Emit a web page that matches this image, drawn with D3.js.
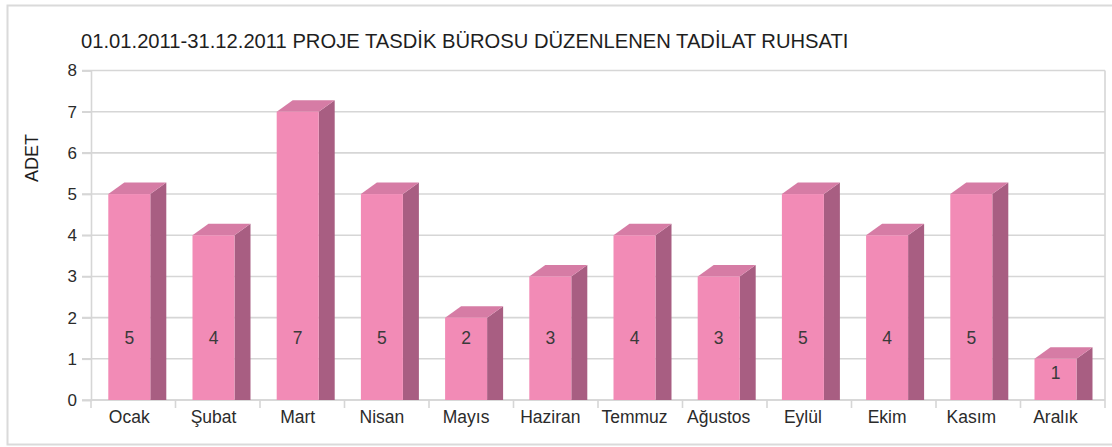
<!DOCTYPE html>
<html>
<head>
<meta charset="utf-8">
<script src="https://cdn.jsdelivr.net/npm/d3@7/dist/d3.min.js"></script>
<style>
  html, body { margin: 0; padding: 0; background: #fff; }
  svg { display: block; font-family: "Liberation Sans", Arial, Helvetica, sans-serif; }
</style>
</head>
<body>
<svg id="chart" width="1112" height="447"></svg>
<script>
// Monthly counts of permits issued
const chartTitle = "01.01.2011-31.12.2011 PROJE TASDİK BÜROSU DÜZENLENEN TADİLAT RUHSATI";
const yAxisTitle = "ADET";
const months = ["Ocak", "Şubat", "Mart", "Nisan", "Mayıs", "Haziran", "Temmuz", "Ağustos", "Eylül", "Ekim", "Kasım", "Aralık"];
const permits = [5, 4, 7, 5, 2, 3, 4, 3, 5, 4, 5, 1];
const yTicks = [0, 1, 2, 3, 4, 5, 6, 7, 8];

const svg = d3.select("#chart");
const plot = { left: 91, right: 1105, top: 70.5, bottom: 400 };

// category bands for the axis, and a slightly tighter band scale for the bar bodies
const x = d3.scaleBand().domain(months).range([plot.left, plot.right]);
const xBar = d3.scaleBand().domain(months).range([plot.left, plot.left + 12 * 84.2]);
const y = d3.scaleLinear().domain([0, 8]).range([plot.bottom, plot.top]);

const gridColor = "#d6d6d6";
const textColor = "#2b2b2b";

// outer frame
svg.append("rect")
  .attr("x", 7.5).attr("y", 5.5)
  .attr("width", 1200).attr("height", 439)
  .attr("fill", "none").attr("stroke", "#dadada").attr("stroke-width", 2);

// title
svg.append("text")
  .attr("x", 81).attr("y", 48)
  .attr("font-size", 20.2)
  .attr("fill", "#1e1e1e")
  .text(chartTitle);

// horizontal gridlines
svg.append("g")
  .selectAll("line")
  .data(yTicks)
  .join("line")
  .attr("x1", plot.left - 9).attr("x2", plot.right)
  .attr("y1", d => y(d)).attr("y2", d => y(d))
  .attr("stroke", gridColor).attr("stroke-width", 1.6);

// right edge of plot area
svg.append("line")
  .attr("x1", plot.right).attr("x2", plot.right)
  .attr("y1", plot.top).attr("y2", plot.bottom)
  .attr("stroke", gridColor).attr("stroke-width", 1.6);

// y axis
const yAxis = d3.axisLeft(y).tickValues(yTicks).tickSize(9).tickPadding(5).tickFormat(d3.format("d"));
const gy = svg.append("g").attr("transform", `translate(${plot.left},0)`).call(yAxis);
gy.select(".domain").attr("stroke", gridColor).attr("stroke-width", 1.6);
gy.selectAll(".tick line").attr("stroke", gridColor).attr("stroke-width", 1.6);
gy.selectAll(".tick text").attr("font-size", 17).attr("fill", textColor).attr("font-family", null);

// x axis with ticks at band boundaries
const gx = svg.append("g").attr("transform", `translate(0,${plot.bottom})`);
gx.append("line")
  .attr("x1", plot.left).attr("x2", plot.right)
  .attr("stroke", gridColor).attr("stroke-width", 1.6);
const boundaries = months.map(m => x(m)).concat([x(months[months.length - 1]) + x.bandwidth()]);
gx.selectAll("line.tick")
  .data(boundaries)
  .join("line")
  .attr("class", "tick")
  .attr("x1", d => d).attr("x2", d => d)
  .attr("y1", 0).attr("y2", 8)
  .attr("stroke", gridColor).attr("stroke-width", 1.6);
gx.selectAll("text")
  .data(months)
  .join("text")
  .attr("x", m => xBar(m) + 17.3 + 21)
  .attr("y", 23)
  .attr("text-anchor", "middle")
  .attr("font-size", 17.5)
  .attr("fill", textColor)
  .text(m => m);

// y axis title
svg.append("text")
  .attr("transform", "translate(38,158) rotate(-90)")
  .attr("text-anchor", "middle")
  .attr("font-size", 18)
  .attr("fill", "#1e1e1e")
  .text(yAxisTitle);

// 3D bars
const frontOffset = 17.3, frontW = 42, depthX = 16, depthY = 11.5;
const colFront = "#f28bb6", colTop = "#d67ca5", colSide = "#a85e82";
const data = months.map((m, i) => ({ m, v: permits[i] }));

const bars = svg.append("g").selectAll("g").data(data).join("g");

bars.append("path") // side face
  .attr("fill", colSide)
  .attr("d", d => {
    const x1 = xBar(d.m) + frontOffset + frontW, yt = y(d.v), yb = y(0);
    return `M${x1},${yt} L${x1 + depthX},${yt - depthY} L${x1 + depthX},${yb} L${x1},${yb} Z`;
  });

bars.append("path") // top face
  .attr("fill", colTop)
  .attr("d", d => {
    const x0 = xBar(d.m) + frontOffset, yt = y(d.v);
    return `M${x0},${yt} L${x0 + depthX},${yt - depthY} L${x0 + frontW + depthX},${yt - depthY} L${x0 + frontW},${yt} Z`;
  });

bars.append("rect") // front face
  .attr("fill", colFront)
  .attr("x", d => xBar(d.m) + frontOffset)
  .attr("y", d => y(d.v))
  .attr("width", frontW)
  .attr("height", d => y(0) - y(d.v));

// value labels
bars.append("text")
  .attr("x", d => xBar(d.m) + frontOffset + frontW / 2)
  .attr("y", d => Math.max(y(1.5), y(d.v) + 14))
  .attr("dy", "0.35em")
  .attr("text-anchor", "middle")
  .attr("font-size", 17.5)
  .attr("fill", "#3a3a3a")
  .text(d => d.v);
</script>
</body>
</html>
